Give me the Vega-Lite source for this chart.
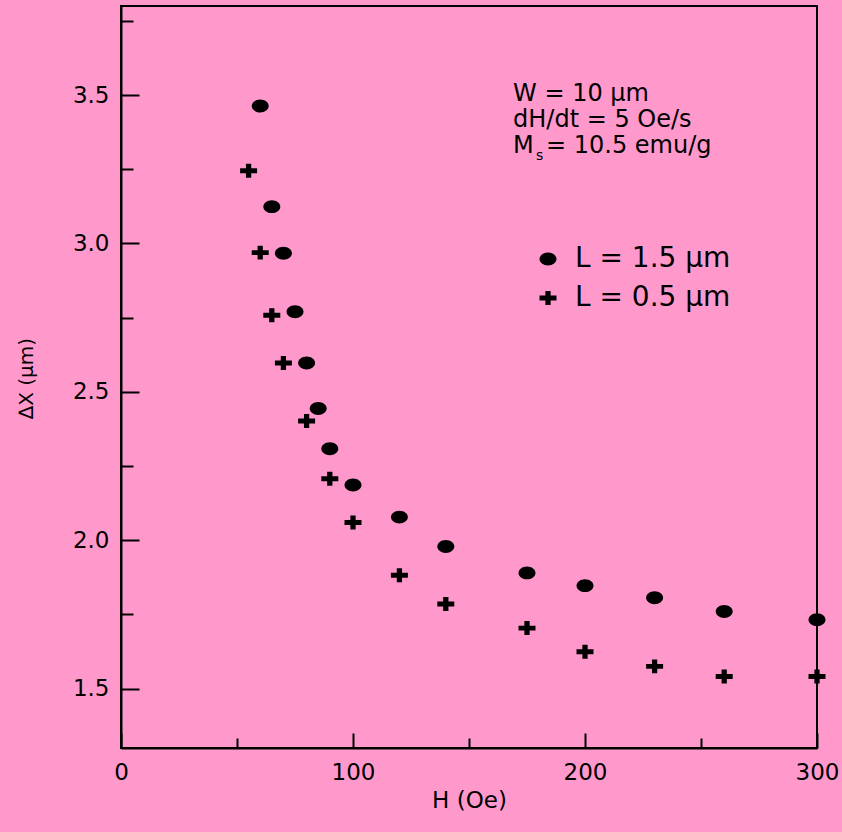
{
  "$schema": "https://vega.github.io/schema/vega-lite/v6.json",
  "width": 696,
  "height": 742,
  "autosize": {"type": "none"},
  "padding": {"left": 121, "top": 6, "right": 25, "bottom": 84},
  "background": "#ff99cc",
  "config": {
    "view": {"stroke": "black", "strokeWidth": 2},
    "font": "DejaVu Sans",
    "axis": {
      "domainColor": "black", "domainWidth": 2,
      "tickColor": "black", "tickWidth": 2,
      "grid": false,
      "labelColor": "black", "titleColor": "black",
      "labelFont": "DejaVu Sans", "titleFont": "DejaVu Sans",
      "labelFontSize": 23, "titleFontWeight": "normal"
    }
  },
  "datasets": {
    "points": [
      {"H": 60, "dX": 3.463, "series": "L = 1.5 μm"},
      {"H": 65, "dX": 3.124, "series": "L = 1.5 μm"},
      {"H": 70, "dX": 2.967, "series": "L = 1.5 μm"},
      {"H": 75, "dX": 2.770, "series": "L = 1.5 μm"},
      {"H": 80, "dX": 2.597, "series": "L = 1.5 μm"},
      {"H": 85, "dX": 2.444, "series": "L = 1.5 μm"},
      {"H": 90, "dX": 2.308, "series": "L = 1.5 μm"},
      {"H": 100, "dX": 2.186, "series": "L = 1.5 μm"},
      {"H": 120, "dX": 2.078, "series": "L = 1.5 μm"},
      {"H": 140, "dX": 1.979, "series": "L = 1.5 μm"},
      {"H": 175, "dX": 1.890, "series": "L = 1.5 μm"},
      {"H": 200, "dX": 1.847, "series": "L = 1.5 μm"},
      {"H": 230, "dX": 1.806, "series": "L = 1.5 μm"},
      {"H": 260, "dX": 1.760, "series": "L = 1.5 μm"},
      {"H": 300, "dX": 1.732, "series": "L = 1.5 μm"},
      {"H": 55, "dX": 3.245, "series": "L = 0.5 μm"},
      {"H": 60, "dX": 2.969, "series": "L = 0.5 μm"},
      {"H": 65, "dX": 2.758, "series": "L = 0.5 μm"},
      {"H": 70, "dX": 2.597, "series": "L = 0.5 μm"},
      {"H": 80, "dX": 2.402, "series": "L = 0.5 μm"},
      {"H": 90, "dX": 2.207, "series": "L = 0.5 μm"},
      {"H": 100, "dX": 2.060, "series": "L = 0.5 μm"},
      {"H": 120, "dX": 1.882, "series": "L = 0.5 μm"},
      {"H": 140, "dX": 1.785, "series": "L = 0.5 μm"},
      {"H": 175, "dX": 1.704, "series": "L = 0.5 μm"},
      {"H": 200, "dX": 1.624, "series": "L = 0.5 μm"},
      {"H": 230, "dX": 1.575, "series": "L = 0.5 μm"},
      {"H": 260, "dX": 1.541, "series": "L = 0.5 μm"},
      {"H": 300, "dX": 1.541, "series": "L = 0.5 μm"}
    ]
  },
  "resolve": {"axis": {"x": "independent", "y": "independent"}},
  "layer": [
    {
      "data": {"name": "points"},
      "mark": {"type": "point", "filled": true, "size": 289, "color": "black", "opacity": 1, "strokeWidth": 0},
      "encoding": {
        "x": {
          "field": "H", "type": "quantitative",
          "scale": {"domain": [0, 300], "nice": false, "zero": false},
          "axis": {
            "orient": "bottom", "values": [0, 100, 200, 300], "tickSize": -15,
            "labelPadding": 28, "labelFlush": false, "labelOverlap": false,
            "title": "H (Oe)", "titleFontSize": 23, "titleX": 348, "titleY": 59,
            "titleAlign": "center", "titleAnchor": null, "titleBaseline": "alphabetic"
          }
        },
        "y": {
          "field": "dX", "type": "quantitative",
          "scale": {"domain": [1.3, 3.8], "nice": false, "zero": false},
          "axis": {
            "orient": "left", "values": [1.5, 2.0, 2.5, 3.0, 3.5], "format": ".1f", "tickSize": -18,
            "labelPadding": 30, "labelFlush": false, "labelOverlap": false,
            "title": "∆X (μm)", "titleFontSize": 20, "titleX": -95, "titleY": 372,
            "titleAngle": 270, "titleAlign": "center", "titleBaseline": "middle"
          }
        },
        "shape": {
          "field": "series", "type": "nominal",
          "scale": {
            "domain": ["L = 1.5 μm", "L = 0.5 μm"],
            "range": [
              "M-1,0A1,0.76,0,1,0,1,0A1,0.76,0,1,0,-1,0Z",
              "M-1,-0.29H-0.31V-0.82H0.31V-0.29H1V0.29H0.31V0.82H-0.31V0.29H-1Z"
            ]
          },
          "legend": {
            "orient": "none", "legendX": 413, "legendY": 239, "title": null,
            "padding": 0, "labelFontSize": 28, "labelFont": "DejaVu Sans", "labelColor": "black",
            "symbolSize": 289, "labelOffset": 13, "rowPadding": 11,
            "symbolFillColor": "black", "symbolStrokeWidth": 0
          }
        }
      }
    },
    {
      "data": {"values": [{}]},
      "mark": {"type": "text", "align": "left", "baseline": "alphabetic", "fontSize": 24, "lineHeight": 26, "font": "DejaVu Sans", "color": "black"},
      "encoding": {
        "x": {
          "datum": 169, "type": "quantitative",
          "scale": {"domain": [0, 300], "nice": false, "zero": false},
          "axis": {"orient": "bottom", "values": [50, 150, 250], "tickSize": -10, "labels": false, "domain": false, "title": null}
        },
        "y": {
          "datum": 3.48, "type": "quantitative",
          "scale": {"domain": [1.3, 3.8], "nice": false, "zero": false},
          "axis": {"orient": "left", "values": [1.75, 2.25, 2.75, 3.25, 3.75], "tickSize": -12, "labels": false, "domain": false, "title": null}
        },
        "text": {"value": ["W = 10 μm", "dH/dt = 5 Oe/s"]}
      }
    },
    {
      "data": {"values": [{}]},
      "mark": {"type": "text", "align": "left", "baseline": "alphabetic", "fontSize": 24, "font": "DejaVu Sans", "color": "black"},
      "encoding": {
        "x": {"datum": 169, "type": "quantitative", "scale": {"domain": [0, 300], "nice": false, "zero": false}, "axis": null},
        "y": {"datum": 3.3047, "type": "quantitative", "scale": {"domain": [1.3, 3.8], "nice": false, "zero": false}, "axis": null},
        "text": {"value": "M"}
      }
    },
    {
      "data": {"values": [{}]},
      "mark": {"type": "text", "align": "left", "baseline": "alphabetic", "fontSize": 14, "font": "DejaVu Sans", "color": "black"},
      "encoding": {
        "x": {"datum": 178.9, "type": "quantitative", "scale": {"domain": [0, 300], "nice": false, "zero": false}, "axis": null},
        "y": {"datum": 3.281, "type": "quantitative", "scale": {"domain": [1.3, 3.8], "nice": false, "zero": false}, "axis": null},
        "text": {"value": "s"}
      }
    },
    {
      "data": {"values": [{}]},
      "mark": {"type": "text", "align": "left", "baseline": "alphabetic", "fontSize": 24, "font": "DejaVu Sans", "color": "black"},
      "encoding": {
        "x": {"datum": 183.2, "type": "quantitative", "scale": {"domain": [0, 300], "nice": false, "zero": false}, "axis": null},
        "y": {"datum": 3.3047, "type": "quantitative", "scale": {"domain": [1.3, 3.8], "nice": false, "zero": false}, "axis": null},
        "text": {"value": "= 10.5 emu/g"}
      }
    }
  ]
}
